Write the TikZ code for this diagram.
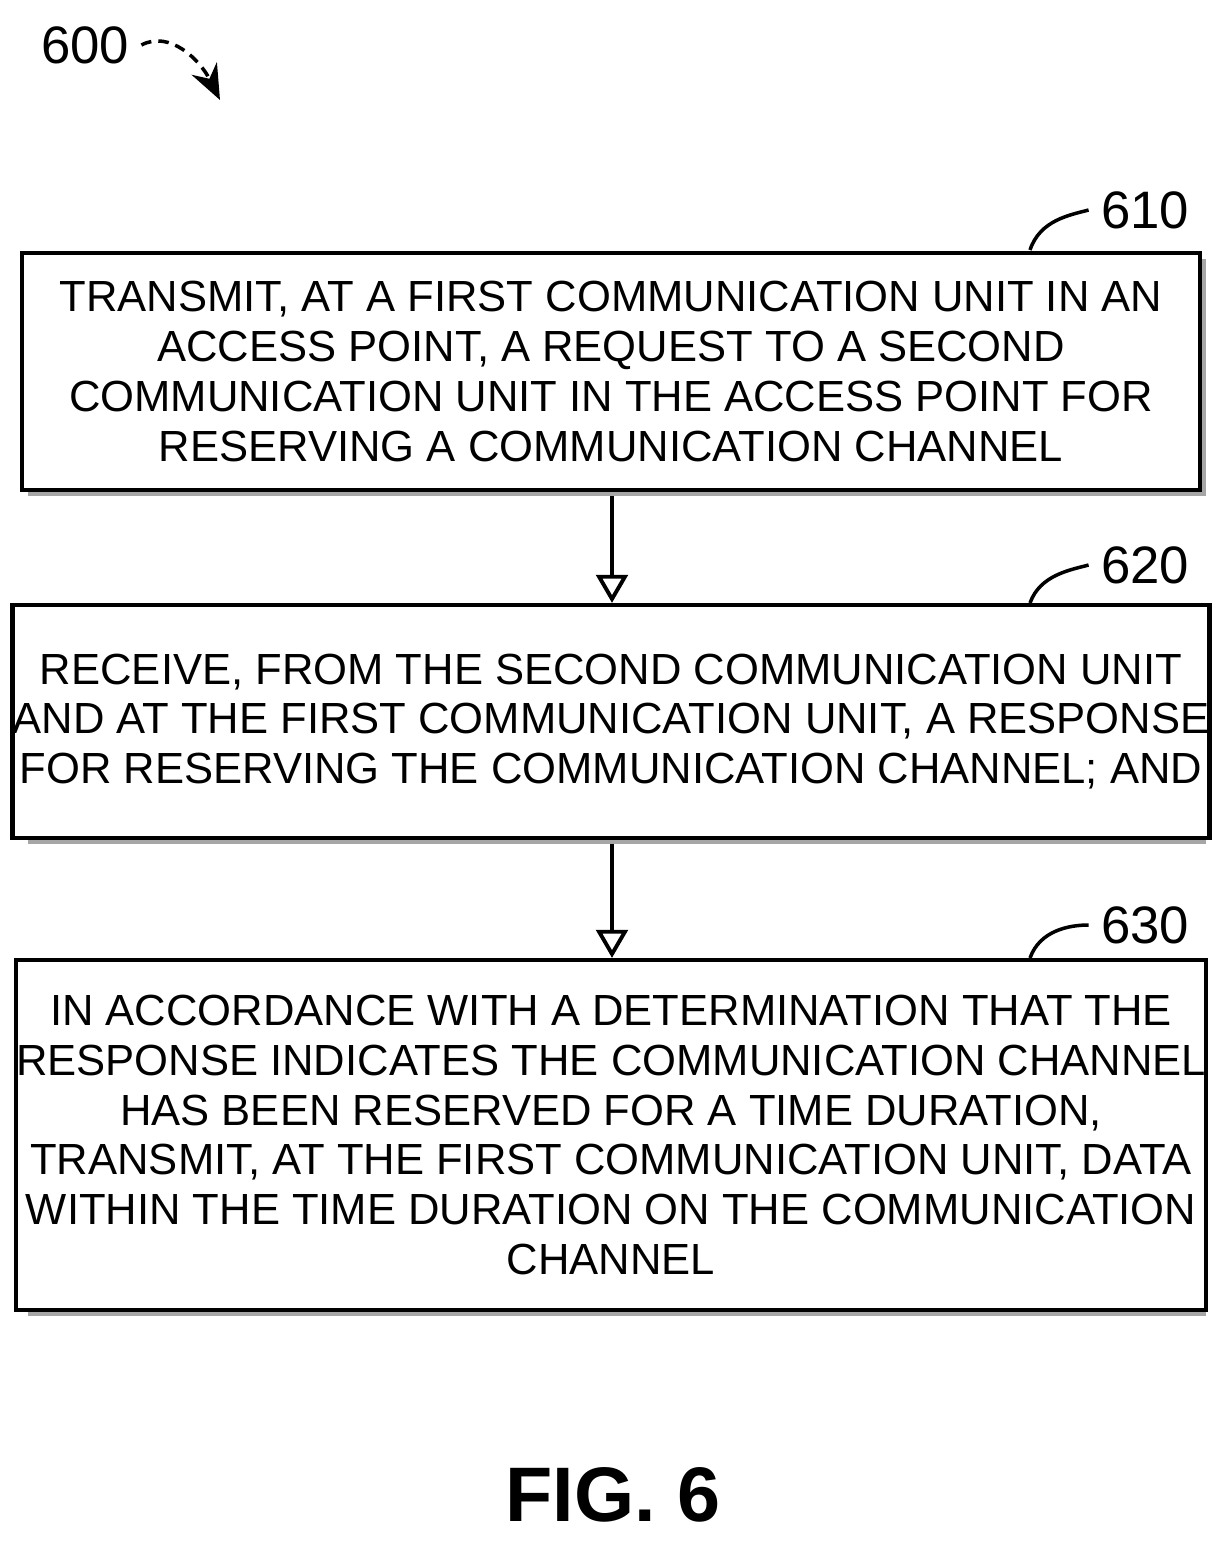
\documentclass[tikz,border=0pt]{standalone}
\usepackage{fontspec}
\setmainfont{Liberation Sans}
\usetikzlibrary{positioning,calc,arrows.meta}

\begin{document}
\begin{tikzpicture}[
    stepbox/.style={rectangle, draw, line width=1.2pt, minimum width=11.78cm, inner xsep=0pt,
        align=center, font=\fontsize{12.4}{14.2}\selectfont, fill=white},
    shade/.style={fill=gray!70},
    refnum/.style={font=\fontsize{15}{15}\selectfont},
    arrow/.style={-{Triangle[open,length=8pt,width=9pt]}, line width=1.1pt},
    leader/.style={line width=1pt}
]
    \useasboundingbox (0,0) rectangle (12.31,-15.41);
    % shadows
    \fill[shade] (0.28,-2.59) rectangle (12.06,-4.96);
    \fill[shade] (0.28,-6.11) rectangle (12.06,-8.44);
    \fill[shade] (0.28,-9.66) rectangle (12.06,-13.16);
    % boxes
    \node[stepbox, minimum height=2.37cm] (transmit) at (6.11,-3.715)
        {TRANSMIT, AT A FIRST COMMUNICATION UNIT IN AN\\ACCESS POINT, A REQUEST TO A SECOND\\COMMUNICATION UNIT IN THE ACCESS POINT FOR\\RESERVING A COMMUNICATION CHANNEL};
    \node[stepbox, minimum height=2.33cm] (receive) at (6.11,-7.215)
        {RECEIVE, FROM THE SECOND COMMUNICATION UNIT\\AND AT THE FIRST COMMUNICATION UNIT, A RESPONSE\\FOR RESERVING THE COMMUNICATION CHANNEL; AND};
    \node[stepbox, minimum height=3.5cm] (send) at (6.11,-11.35)
        {IN ACCORDANCE WITH A DETERMINATION THAT THE\\RESPONSE INDICATES THE COMMUNICATION CHANNEL\\HAS BEEN RESERVED FOR A TIME DURATION,\\TRANSMIT, AT THE FIRST COMMUNICATION UNIT, DATA\\WITHIN THE TIME DURATION ON THE COMMUNICATION\\CHANNEL};

    \draw[arrow] (6.12,-4.96) -- (receive.north -| 6.12,0);
    \draw[arrow] (6.12,-8.44) -- (send.north -| 6.12,0);

    % reference numerals
    \node[refnum] (n610) at (11.45,-2.1) {610};
    \node[refnum] (n620) at (11.45,-5.65) {620};
    \node[refnum] (n630) at (11.45,-9.25) {630};
    \draw[leader] (10.3,-2.5) .. controls (10.4,-2.2) and (10.7,-2.15) .. (n610.west);
    \draw[leader] (10.3,-6.03) .. controls (10.4,-5.75) and (10.7,-5.7) .. (n620.west);
    \draw[leader] (10.3,-9.58) .. controls (10.4,-9.3) and (10.7,-9.25) .. (n630.west);

    \node[refnum] (n600) at (0.85,-0.45) {600};
    \draw[line width=1pt, densely dashed, -{Stealth[length=10pt,width=8pt]}] (n600.east)
        .. controls (1.7,-0.3) and (2.0,-0.6) .. (2.2,-1.0);

    \node[font=\bfseries\fontsize{22}{22}\selectfont] (fig) at (6.13,-14.95) {FIG. 6};
\end{tikzpicture}
\end{document}
